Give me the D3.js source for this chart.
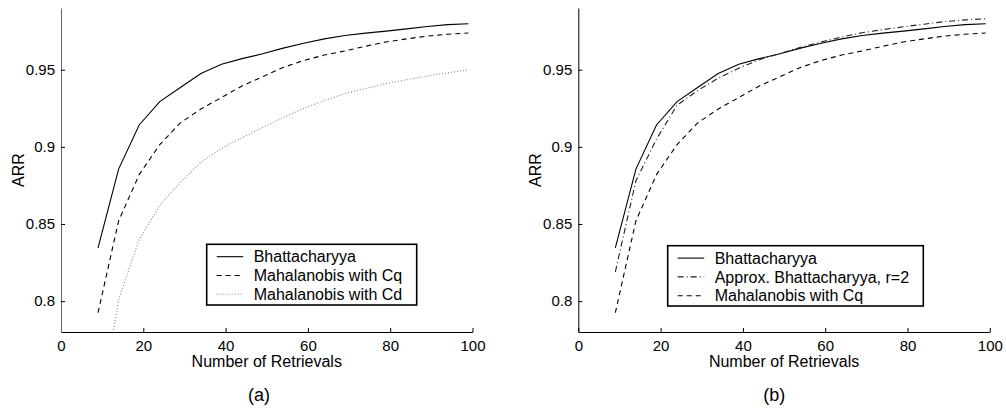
<!DOCTYPE html>
<html>
<head>
<meta charset="utf-8">
<script src="https://cdn.jsdelivr.net/npm/d3@7"></script>
<style>
  body { margin: 0; background: white; }
  text { font-family: "Liberation Sans", Arial, sans-serif; fill: #000; }
</style>
</head>
<body>
<div id="d3-container"></div>
<script>
// data (ARR vs number of retrievals)
const retrievals = [9, 14, 19, 24, 29, 34, 39, 44, 49, 54, 59, 64, 69, 74, 79, 84, 89, 94, 99];
const bhattacharyya = [0.8345, 0.8856, 0.9142, 0.9293, 0.9385, 0.9475, 0.9535, 0.9572, 0.9603, 0.9640, 0.9672, 0.9700, 0.9722, 0.9737, 0.9750, 0.9765, 0.9780, 0.9792, 0.9798];
const mahalanobisCq = [0.7925, 0.8520, 0.8820, 0.9015, 0.9155, 0.9245, 0.9320, 0.9395, 0.9455, 0.9515, 0.9560, 0.9595, 0.9622, 0.9652, 0.9680, 0.9700, 0.9718, 0.9730, 0.9738];
const mahalanobisCd = [0.7200, 0.8010, 0.8400, 0.8620, 0.8770, 0.8900, 0.8990, 0.9060, 0.9125, 0.9190, 0.9250, 0.9300, 0.9345, 0.9378, 0.9410, 0.9435, 0.9460, 0.9480, 0.9500];
const approxBhattacharyya = [0.8190, 0.8780, 0.9050, 0.9270, 0.9365, 0.9445, 0.9510, 0.9565, 0.9605, 0.9645, 0.9680, 0.9712, 0.9740, 0.9760, 0.9778, 0.9795, 0.9812, 0.9823, 0.9830];

const xTicks = [0, 20, 40, 60, 80, 100];
const yTicks = [0.8, 0.85, 0.9, 0.95];

let margin = { top: 8, bottom: 78 },
  width = 411.5,
  height = 410 - margin.top - margin.bottom;

let svg = d3.select('#d3-container')
  .append('svg')
  .attr('width', 1006)
  .attr('height', 410)
  .style('background-color', 'white');

// line styles
const styles = {
  solid: { color: '#000', dash: null },
  dashed: { color: '#000', dash: '5,4' },
  dotted: { color: '#888', dash: '1,2' },
  dashdot: { color: '#222', dash: '6,3,1,3' }
};

function drawPanel(id, left, series, legend, caption, legendBox, yAxisColor) {
  var x = d3.scaleLinear().domain([0, 100]).range([0, width]);
  var y = d3.scaleLinear().domain([0.78, 0.99]).range([height, 0]);

  var g = svg.append('g')
    .attr('transform', 'translate(' + left + ',' + margin.top + ')');

  g.append('clipPath').attr('id', 'clip-' + id)
    .append('rect').attr('width', width).attr('height', height);

  // x axis (ticks point inward)
  var xAxis = g.append('g')
    .attr('transform', 'translate(0,' + height + ')')
    .call(d3.axisBottom(x).tickValues(xTicks).tickSize(-4).tickSizeOuter(0).tickPadding(8));
  xAxis.selectAll('text').style('font-size', '15px');

  // y axis
  var yAxis = g.append('g')
    .call(d3.axisLeft(y).tickValues(yTicks).tickSize(-4).tickSizeOuter(0).tickPadding(6)
      .tickFormat(d => String(d)));
  yAxis.selectAll('text').style('font-size', '15px');
  yAxis.select('.domain').attr('stroke', yAxisColor);

  // axis labels
  g.append('text')
    .attr('x', width / 2)
    .attr('y', height + 34.5)
    .attr('text-anchor', 'middle')
    .style('font-size', '16px')
    .text('Number of Retrievals');

  g.append('text')
    .attr('transform', 'translate(' + (-37.5) + ',' + (height / 2) + ') rotate(-90)')
    .attr('text-anchor', 'middle')
    .style('font-size', '16px')
    .text('ARR');

  g.append('text')
    .attr('x', caption.x)
    .attr('y', height + 69)
    .attr('text-anchor', 'middle')
    .style('font-size', '18px')
    .text(caption.text);

  // lines
  var line = d3.line()
    .x((d, i) => x(retrievals[i]))
    .y(d => y(d));

  g.append('g')
    .attr('clip-path', 'url(#clip-' + id + ')')
    .selectAll('path')
    .data(series)
    .join('path')
    .attr('d', d => line(d.values))
    .attr('fill', 'none')
    .attr('stroke', d => styles[d.style].color)
    .attr('stroke-width', 1.1)
    .attr('stroke-dasharray', d => styles[d.style].dash);

  // legend
  var lg = svg.append('g')
    .attr('transform', 'translate(' + legendBox.x + ',' + legendBox.y + ')');
  lg.append('rect')
    .attr('width', legendBox.w)
    .attr('height', legendBox.h)
    .attr('fill', 'white')
    .attr('stroke', '#000')
    .attr('stroke-width', 1.6);

  var rows = lg.selectAll('g.row')
    .data(legend)
    .join('g')
    .attr('class', 'row')
    .attr('transform', (d, i) => 'translate(0,' + (12.4 + i * 18.8) + ')');
  rows.append('line')
    .attr('x1', 10).attr('x2', 36.5)
    .attr('stroke', d => styles[d.style].color)
    .attr('stroke-width', 1.1)
    .attr('stroke-dasharray', d => styles[d.style].dash);
  rows.append('text')
    .attr('x', 47)
    .attr('dy', '0.35em')
    .style('font-size', '16px')
    .text(d => d.name);
}

var seriesA = [
  { name: 'Bhattacharyya', values: bhattacharyya, style: 'solid' },
  { name: 'Mahalanobis with Cq', values: mahalanobisCq, style: 'dashed' },
  { name: 'Mahalanobis with Cd', values: mahalanobisCd, style: 'dotted' }
];
var seriesB = [
  { name: 'Bhattacharyya', values: bhattacharyya, style: 'solid' },
  { name: 'Approx. Bhattacharyya, r=2', values: approxBhattacharyya, style: 'dashdot' },
  { name: 'Mahalanobis with Cq', values: mahalanobisCq, style: 'dashed' }
];

drawPanel('a', 61, seriesA, seriesA, { x: 198, text: '(a)' },
  { x: 206.7, y: 244.3, w: 210, h: 60.7 }, '#666');
drawPanel('b', 578.3, seriesB, seriesB, { x: 196, text: '(b)' },
  { x: 667.7, y: 245.7, w: 255.6, h: 60.3 }, '#000');
</script>
</body>
</html>
